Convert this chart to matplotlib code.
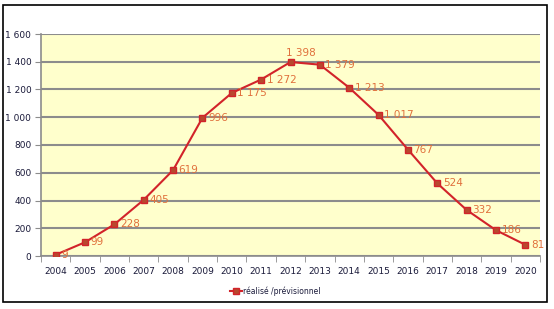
import matplotlib.pyplot as plt
from matplotlib.patches import Rectangle

years = [str(y) for y in range(2004, 2021)]
values = [9, 99, 228, 405, 619, 996, 1175, 1272, 1398, 1379, 1213, 1017, 767, 524, 332, 186, 81]
yticks = [0, 200, 400, 600, 800, 1000, 1200, 1400, 1600]
series_label = 'réalisé /prévisionnel'

LINE_COLOR = '#d2232a'
MARKER_FACE = '#b8482e'
LABEL_COLOR = '#e0703c'
BG_COLOR = '#ffffcc'
GRID_COLOR = '#8c8c8c'
TEXT_COLOR = '#1a1a3a'


def fmt(v):
    return '{:,}'.format(v).replace(',', ' ')


fig = plt.figure(figsize=(5.54, 3.09), dpi=100)
ax = fig.add_axes([41 / 554, 1 - 256 / 309, 499 / 554, 222 / 309])
ax.set_facecolor(BG_COLOR)

# outer frame around the whole chart
fig.patches.append(Rectangle((3 / 554, 1 - 302 / 309), 544 / 554, 297 / 309,
                             transform=fig.transFigure, fill=False,
                             edgecolor='black', linewidth=1.2))

x = list(range(len(years)))
ax.plot(x, values, color=LINE_COLOR, linewidth=1.5, marker='s', markersize=5,
        markerfacecolor=MARKER_FACE, markeredgecolor=LINE_COLOR,
        markeredgewidth=1, label=series_label, zorder=3)

for i, v in enumerate(values):
    if v == max(values):
        ax.annotate(fmt(v), (i, v), xytext=(-3, 3), textcoords='offset points',
                    fontsize=7.5, color=LABEL_COLOR, va='bottom', ha='left')
    else:
        ax.annotate(fmt(v), (i, v), xytext=(4, 0), textcoords='offset points',
                    fontsize=7.5, color=LABEL_COLOR, va='center', ha='left')

ax.set_xlim(-0.5, len(years) - 0.5)
ax.set_ylim(0, 1600)
ax.set_yticks(yticks)
ax.set_yticklabels([fmt(t) for t in yticks])
ax.set_xticks(x)
ax.set_xticklabels(years)
ax.set_xticks([i - 0.5 for i in range(len(years) + 1)], minor=True)

ax.tick_params(axis='x', which='major', length=0, labelsize=6.5,
               labelcolor=TEXT_COLOR, pad=8)
ax.tick_params(axis='x', which='minor', length=4, color=GRID_COLOR)
ax.tick_params(axis='y', length=4, color=GRID_COLOR, labelsize=6.5,
               labelcolor=TEXT_COLOR, pad=3)

ax.grid(axis='y', color=GRID_COLOR, linewidth=1.5)
ax.set_axisbelow(True)
for side in ['top', 'right']:
    ax.spines[side].set_visible(False)
ax.spines['left'].set_color(GRID_COLOR)
ax.spines['bottom'].set_color(GRID_COLOR)
ax.spines['left'].set_linewidth(1.2)
ax.spines['bottom'].set_linewidth(1.2)

leg = fig.legend(loc='center', bbox_to_anchor=(275 / 554, 1 - 291 / 309),
                 frameon=False, fontsize=5.5, handlelength=1.6,
                 handletextpad=0.1, markerscale=0.8)
for t in leg.get_texts():
    t.set_color(TEXT_COLOR)

fig.savefig('out.png', dpi=100)
